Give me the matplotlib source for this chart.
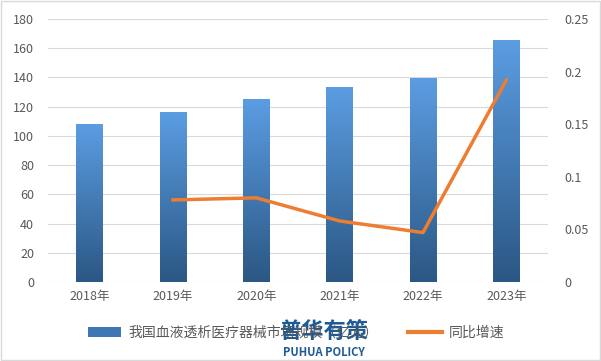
import matplotlib
matplotlib.use("Agg")
import matplotlib.pyplot as plt
import numpy as np
from matplotlib.colors import LinearSegmentedColormap
from matplotlib.patches import Rectangle
from matplotlib.lines import Line2D

plt.rcParams['font.family'] = ['Noto Sans CJK SC', 'DejaVu Sans']

years = ["2018年", "2019年", "2020年", "2021年", "2022年", "2023年"]
market = [108, 116.3, 125.2, 132.8, 139, 165.6]
growth = [None, 0.078, 0.080, 0.058, 0.047, 0.192]
bar_label = "我国血液透析医疗器械市场规模（亿元）"
line_label = "同比增速"

fig = plt.figure(figsize=(6.01, 3.61), dpi=100)
ax = fig.add_axes([48/601, 1-282/361, 500/601, 263/361])
ax2 = ax.twinx()

x = np.arange(len(years))
w = 0.32
cmap = LinearSegmentedColormap.from_list("g", ["#2b5784", "#5b9de2"])
grad = np.linspace(0, 1, 256).reshape(-1, 1)
bars = ax.bar(x, market, width=w, color="none", zorder=2)
for b in bars:
    ax.imshow(grad, cmap=cmap, origin="lower", aspect="auto",
              extent=[b.get_x(), b.get_x()+b.get_width(), 0, b.get_height()], zorder=2)

gx = [i for i, g in enumerate(growth) if g is not None]
gy = [g for g in growth if g is not None]
ax2.plot(gx, gy, color="#ED7D31", lw=2.5, zorder=3)

ax.set_xlim(-0.5, len(years)-0.5)
ax.set_ylim(0, 180)
ax.set_yticks(range(0, 181, 20))
ax2.set_ylim(0, 0.25)
ax2.set_yticks([0, 0.05, 0.1, 0.15, 0.2, 0.25])
ax2.set_yticklabels(["0", "0.05", "0.1", "0.15", "0.2", "0.25"])
ax.set_xticks(x)
ax.set_xticklabels(years)
ax.grid(axis="y", color="#d9d9d9", lw=0.8, zorder=0)
ax.set_axisbelow(True)
for a in (ax, ax2):
    for s in a.spines.values():
        s.set_visible(False)
    a.tick_params(length=0, colors="#595959", labelsize=9)
ax.tick_params(axis="y", pad=10)
ax2.tick_params(axis="y", pad=12)
ax.tick_params(axis="x", pad=6)
ax2.set_zorder(ax.get_zorder()+1)
ax2.patch.set_visible(False)

handles = [Rectangle((0, 0), 1, 1, facecolor="#3f77b5"),
           Line2D([0], [0], color="#ED7D31", lw=3)]
fig.legend(handles, [bar_label, line_label], loc="center", bbox_to_anchor=(296/601, 1-333/361),
           ncol=2, frameon=False, fontsize=10, labelcolor="#595959",
           handlelength=2.4, columnspacing=2.2, handletextpad=0.5)

fig.text(324/601, 1-331/361, "普华有策", ha="center", va="center", fontsize=16,
         fontweight="heavy", color="#1d5a98")
fig.text(324/601, 1-352/361, "PUHUA POLICY", ha="center", va="center", fontsize=8,
         fontweight="bold", color="#1d5a98")

fig.patches.append(Rectangle((0.002, 0.003), 0.996, 0.994, transform=fig.transFigure,
                             fill=False, edgecolor="#d9d9d9", lw=1))
fig.savefig("out.png", dpi=100)
